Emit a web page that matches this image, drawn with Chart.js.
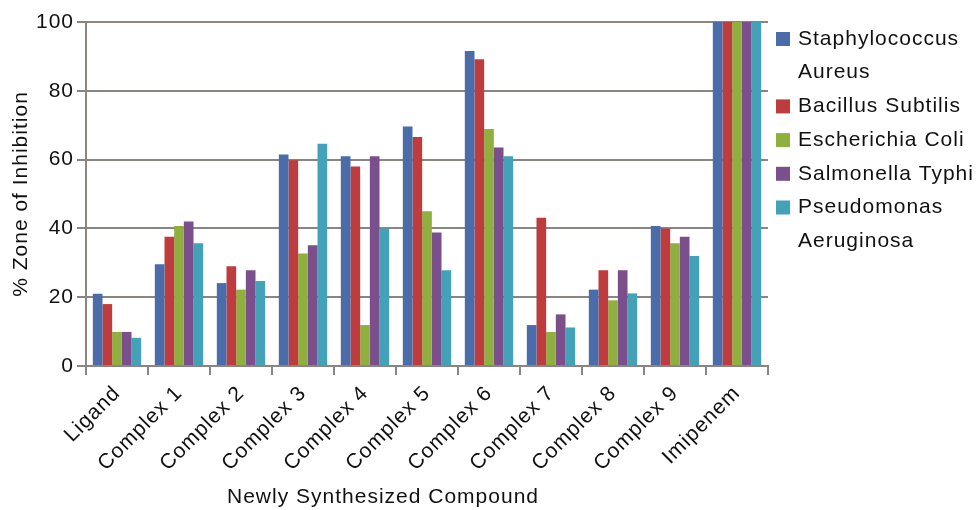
<!DOCTYPE html>
<html>
<head>
<meta charset="utf-8">
<script src="https://cdn.jsdelivr.net/npm/chart.js@4"></script>
<style>
  html, body { margin: 0; padding: 0; background: #fff; }
  #wrap { width: 979px; height: 510px; }
</style>
</head>
<body>
<div id="wrap"><canvas id="chart" width="979" height="510"></canvas></div>
<script>
// compounds on the x axis
const compounds = ["Ligand", "Complex 1", "Complex 2", "Complex 3", "Complex 4", "Complex 5",
                   "Complex 6", "Complex 7", "Complex 8", "Complex 9", "Imipenem"];

// % zone of inhibition per organism
const staphAureus   = [21, 29.6, 24.1, 61.5, 61, 69.6, 91.6, 11.9, 22.2, 40.7, 100];
const bacSubtilis   = [18, 37.6, 29, 59.8, 58, 66.6, 89.2, 43.1, 27.8, 40, 100];
const eColi         = [9.9, 40.7, 22.2, 32.7, 11.9, 45, 68.9, 9.9, 19.1, 35.7, 100];
const salTyphi      = [9.9, 42, 27.8, 35.1, 61, 38.8, 63.5, 15, 27.8, 37.6, 100];
const pseudAerug    = [8.2, 35.7, 24.7, 64.6, 40, 27.8, 61, 11.2, 21.1, 32, 100];

const yTicks = [0, 20, 40, 60, 80, 100];

const BLUE   = "#4a6ca9";
const RED    = "#be3b3e";
const GREEN  = "#8faf3e";
const PURPLE = "#7b4e8c";
const CYAN   = "#43a1b8";

const FONT = "'Liberation Sans', Arial, Helvetica, sans-serif";
const GRID = "#8a8580";

// letter spacing gets reset whenever the canvas is resized, so set it again
const spacingPlugin = {
    id: "spacing",
    beforeUpdate(chart) { chart.ctx.letterSpacing = "1px"; },
    beforeDraw(chart) { chart.ctx.letterSpacing = "1px"; }
};

// x title and the wrapped legend on the right
const extrasPlugin = {
    id: "extras",
    afterDraw(chart) {
        const ctx = chart.ctx;
        const area = chart.chartArea;
        ctx.save();
        ctx.letterSpacing = "1px";
        ctx.fillStyle = "#111";
        ctx.font = "21px " + FONT;
        ctx.textBaseline = "middle";

        // axis title
        ctx.textAlign = "center";
        ctx.fillText("Newly Synthesized Compound", 383, 497);

        // legend
        ctx.textAlign = "left";
        const boxX = area.right + 8;
        const textX = area.right + 30;
        const maxW = chart.width - textX + 2;
        let y = 39;
        chart.data.datasets.forEach(function(ds) {
            ctx.fillStyle = ds.backgroundColor;
            ctx.fillRect(boxX, y - 7, 14, 14);
            ctx.fillStyle = "#111";
            const words = ds.label.split(" ");
            let line = "";
            let lines = [];
            words.forEach(function(w) {
                const test = line ? line + " " + w : w;
                if (line && ctx.measureText(test).width > maxW) {
                    lines.push(line);
                    line = w;
                } else {
                    line = test;
                }
            });
            lines.push(line);
            lines.forEach(function(l) {
                ctx.fillText(l, textX, y);
                y += 33.7;
            });
        });
        ctx.restore();
    }
};

function makeSet(label, color, data) {
    return {
        label: label,
        backgroundColor: color,
        borderWidth: 0,
        data: data,
        categoryPercentage: 0.78,
        barPercentage: 1.0
    };
}

const ctx = document.getElementById("chart").getContext("2d");
new Chart(ctx, {
    type: "bar",
    data: {
        labels: compounds,
        datasets: [
            makeSet("Staphylococcus Aureus", BLUE, staphAureus),
            makeSet("Bacillus Subtilis", RED, bacSubtilis),
            makeSet("Escherichia Coli", GREEN, eColi),
            makeSet("Salmonella Typhi", PURPLE, salTyphi),
            makeSet("Pseudomonas Aeruginosa", CYAN, pseudAerug)
        ]
    },
    options: {
        responsive: false,
        animation: false,
        devicePixelRatio: 1,
        layout: { padding: { top: 22, right: 211, left: 0, bottom: 0 } },
        plugins: {
            legend: { display: false },
            tooltip: { enabled: false }
        },
        scales: {
            x: {
                grid: {
                    offset: true,
                    drawOnChartArea: false,
                    color: GRID,
                    lineWidth: 2,
                    tickLength: 9
                },
                border: { color: GRID, width: 2 },
                ticks: {
                    color: "#111",
                    font: { family: FONT, size: 21 },
                    minRotation: 45,
                    maxRotation: 45,
                    padding: 6,
                    autoSkip: false
                },
                afterFit(scale) { scale.height = 144; }
            },
            y: {
                min: 0,
                max: 100,
                afterBuildTicks(scale) {
                    scale.ticks = yTicks.map(function(v) { return { value: v }; });
                },
                grid: {
                    color: GRID,
                    lineWidth: 2,
                    tickLength: 9
                },
                border: { color: GRID, width: 2 },
                ticks: {
                    color: "#111",
                    font: { family: FONT, size: 21 },
                    padding: 3
                },
                title: {
                    display: true,
                    text: "% Zone of Inhibition",
                    color: "#111",
                    font: { family: FONT, size: 21 },
                    padding: { top: 9, bottom: 0 }
                },
                afterFit(scale) { scale.width = 86; }
            }
        }
    },
    plugins: [spacingPlugin, extrasPlugin]
});
</script>
</body>
</html>
